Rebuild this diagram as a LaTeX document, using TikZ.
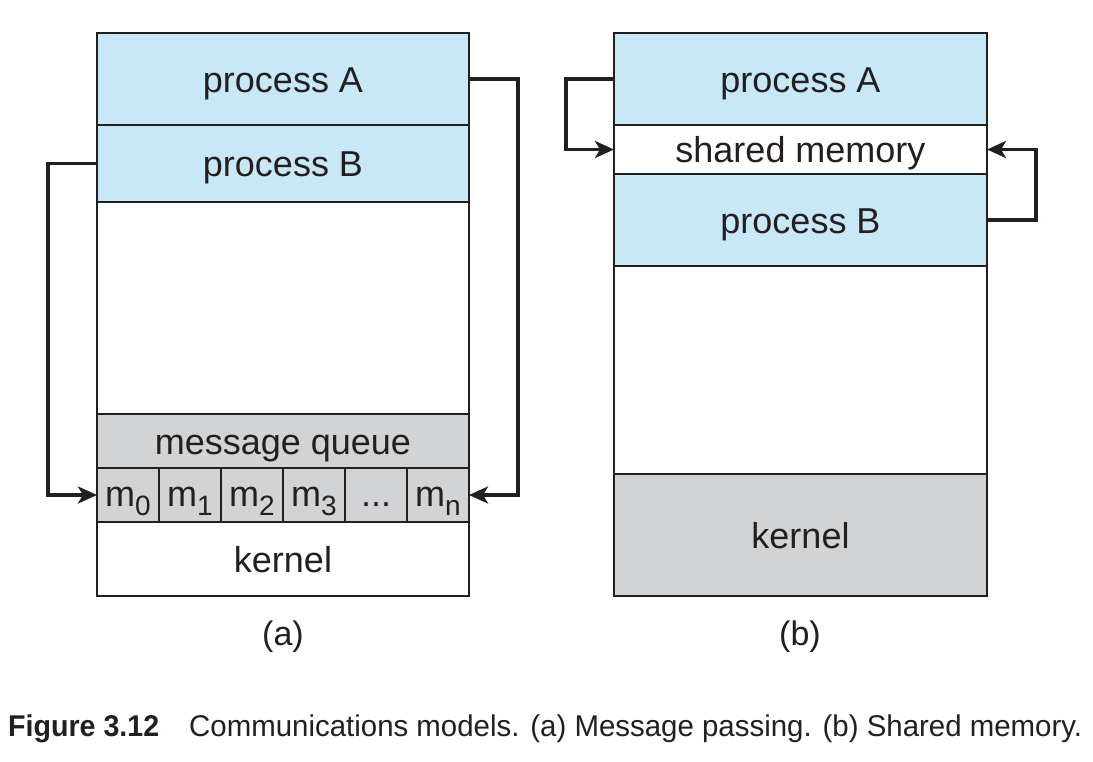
\documentclass[tikz,border=0pt]{standalone}
\usepackage{fontspec}
\setmainfont{Liberation Sans}
\usepackage{graphicx}
\usetikzlibrary{arrows.meta}
\definecolor{ink}{HTML}{231F20}
\definecolor{procblue}{HTML}{C8E8F8}
\definecolor{kgray}{HTML}{D1D3D4}
\newcommand{\msb}[1]{m{\fontsize{28}{28}\selectfont\raisebox{-9pt}{#1}}}
\begin{document}
\begin{tikzpicture}[x=1pt,y=-1pt,
  blk/.style={draw=ink, line width=2pt, inner sep=0pt, outer sep=0pt, anchor=north west,
     text=ink, text height=26pt, text depth=0pt, font=\fontsize{36}{40}\selectfont},
  proc/.style={blk, fill=procblue},
  grayb/.style={blk, fill=kgray},
  whiteb/.style={blk, fill=white},
  mcell/.style={grayb, minimum width=62pt, minimum height=54pt, text height=22pt},
  arr/.style={draw=ink, line width=3.4pt, line join=miter, -{Stealth[length=19pt,width=17pt,inset=5pt]}},
  lbl/.style={text=ink, inner sep=0pt, font=\fontsize{34}{40}\selectfont},
  captxt/.style={text=ink, inner sep=0pt, anchor=base west, font=\fontsize{30}{34}\selectfont}
]
\useasboundingbox (0,0) rectangle (1093,761);
% (a) message passing
\node[proc, minimum width=372pt, minimum height=92pt] (aA) at (97,33) {process A};
\node[proc, minimum width=372pt, minimum height=77pt] (aB) at (97,125) {process B};
\node[whiteb, minimum width=372pt, minimum height=212pt] (aE) at (97,202) {};
\node[grayb, minimum width=372pt, minimum height=54pt] (aQ) at (97,414) {message queue};
\node[mcell] (m0) at (97,468) {\msb{0}};
\node[mcell] (m1) at (159,468) {\msb{1}};
\node[mcell] (m2) at (221,468) {\msb{2}};
\node[mcell] (m3) at (283,468) {\msb{3}};
\node[mcell] (md) at (345,468) {...};
\node[mcell] (mn) at (407,468) {\msb{n}};
\node[whiteb, minimum width=372pt, minimum height=74pt] (aK) at (97,522) {kernel};
\draw[arr] (aB.west) -- ++(-49,0) |- (m0.west);
\draw[arr] (aA.east) -- ++(49,0) |- (mn.east);
\node[lbl] (la) at (283,637) {(a)};
% (b) shared memory
\node[proc, minimum width=373pt, minimum height=92pt] (bA) at (614,33) {process A};
\node[whiteb, minimum width=373pt, minimum height=49pt] (bS) at (614,125) {shared memory};
\node[proc, minimum width=373pt, minimum height=92pt] (bB) at (614,174) {process B};
\node[whiteb, minimum width=373pt, minimum height=208pt] (bE) at (614,266) {};
\node[grayb, minimum width=373pt, minimum height=122pt] (bK) at (614,474) {kernel};
\draw[arr] (bA.west) -- ++(-48,0) |- (bS.west);
\draw[arr] (bB.east) -- ++(49,0) |- (bS.east);
\node[lbl] (lb) at (800,637) {(b)};
% caption
\node[captxt] (fig) at (8,736) {\resizebox{151pt}{\height}{\bfseries Figure 3.12}};
\node[captxt] (captext) at (189,736) {\resizebox{893pt}{\height}{Communications models. (a) Message passing. (b) Shared memory.}};
\end{tikzpicture}
\end{document}
